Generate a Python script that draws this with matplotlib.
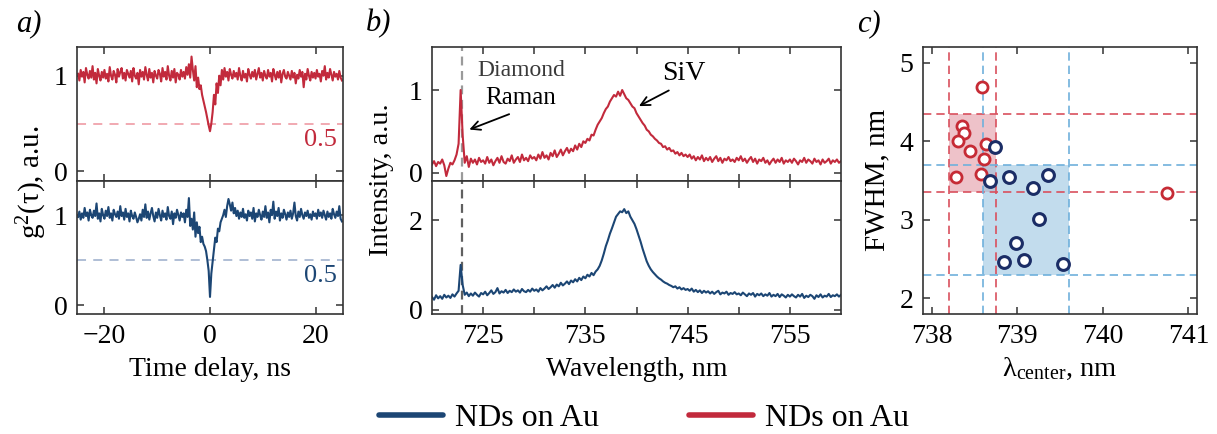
import numpy as np
import matplotlib
matplotlib.use("Agg")
import matplotlib.pyplot as plt
from matplotlib.patches import Rectangle

plt.rcParams['font.family'] = ['Liberation Serif', 'DejaVu Serif']
plt.rcParams['mathtext.fontset'] = 'custom'
plt.rcParams['mathtext.rm'] = 'Liberation Serif'
plt.rcParams['mathtext.it'] = 'Liberation Serif:italic'
plt.rcParams['axes.linewidth'] = 1.2
plt.rcParams['axes.edgecolor'] = '#333333'

red = "#c22a3c"
blue = "#1c4674"

# ---- panel a: g2(tau), tau from -25 to 25 ns, 0.25 ns steps
g2_red = [
    1.02, 0.95, 1.06, 0.99, 1.04, 0.93, 1.08, 1.01, 0.97, 1.05, 0.98, 1.10, 0.96, 1.03, 0.92, 1.07, 1.00, 0.95, 1.04, 0.98,
    1.06, 0.97, 1.02, 0.94, 1.09, 1.00, 0.96, 1.05, 1.01, 0.93, 1.07, 0.99, 1.04, 1.08, 0.97, 1.03, 0.95, 1.06, 1.02, 0.98,
    1.05, 0.94, 1.08, 1.00, 0.97, 1.03, 0.91, 1.06, 0.99, 1.04, 0.96, 1.09, 1.01, 0.95, 1.07, 0.98, 1.03, 0.93, 1.05, 1.00,
    0.97, 1.06, 1.02, 0.94, 1.08, 0.99, 1.04, 0.96, 1.10, 1.00, 0.95, 1.05, 0.98, 1.07, 0.93, 1.03, 1.01, 0.96, 1.06, 0.99,
    1.04, 0.97, 1.09, 1.01, 1.12, 0.98, 1.20, 1.06, 0.95, 1.10, 0.88, 0.98, 0.86, 0.90, 0.80, 0.74, 0.68, 0.62, 0.55, 0.48,
    0.42, 0.50, 0.62, 0.80, 0.70, 0.92, 0.82, 1.00, 0.90, 1.06, 0.96, 1.08, 0.99, 1.04, 0.95, 1.07, 1.01, 0.97, 1.05, 0.99,
    1.03, 0.96, 1.08, 1.00, 0.95, 1.05, 0.98, 1.02, 0.94, 1.07, 1.01, 0.97, 1.04, 0.99, 1.06, 0.96, 1.02, 1.08, 0.98, 1.03,
    0.95, 1.05, 1.00, 0.97, 1.06, 0.99, 1.03, 0.94, 1.07, 1.01, 0.96, 1.04, 0.98, 1.05, 0.93, 1.02, 1.06, 0.99, 0.97, 1.04,
    1.00, 0.96, 1.05, 0.98, 1.03, 0.92, 1.01, 0.97, 1.06, 0.99, 1.04, 0.88, 1.02, 0.96, 1.07, 1.00, 0.95, 1.04, 0.98, 1.03,
    0.97, 1.06, 0.99, 1.02, 0.94, 1.05, 1.00, 1.10, 0.96, 1.03, 0.98, 1.07, 1.01, 0.95, 1.04, 0.99, 1.02, 0.96, 1.05, 0.98, 0.95,
]
g2_blue = [
    0.98, 1.04, 0.95, 1.02, 0.97, 1.08, 0.99, 1.03, 0.94, 1.06, 1.00, 0.97, 1.05, 0.99, 1.13, 0.96, 1.02, 0.93, 1.07, 1.00,
    0.96, 1.05, 0.99, 1.09, 0.97, 1.02, 0.94, 1.06, 1.01, 0.98, 1.04, 0.96, 1.10, 0.99, 1.03, 0.95, 1.07, 0.98, 1.02, 0.93,
    1.05, 0.99, 0.96, 1.03, 0.98, 0.92, 0.96, 1.01, 0.94, 1.06, 0.98, 1.12, 0.97, 1.04, 0.95, 1.02, 1.08, 0.99, 0.93, 1.03,
    0.97, 1.07, 1.00, 0.94, 1.05, 0.98, 1.02, 0.95, 1.09, 0.99, 0.96, 1.04, 0.90, 1.02, 0.97, 1.06, 1.00, 0.94, 1.03, 0.98,
    1.02, 0.92, 1.06, 0.98, 1.19, 0.88, 0.96, 0.84, 1.03, 0.76, 0.92, 0.80, 0.87, 0.70, 0.76, 0.68, 0.65, 0.60, 0.50, 0.38,
    0.09, 0.35, 0.48, 0.62, 0.75, 0.70, 0.85, 0.82, 0.92, 0.96, 1.00, 1.06, 0.98, 1.10, 1.18, 1.12, 1.05, 1.14, 1.02, 1.08,
    0.99, 1.05, 0.96, 1.03, 0.98, 1.07, 0.97, 1.01, 0.94, 1.05, 0.99, 1.03, 0.96, 1.08, 0.93, 1.02, 0.98, 1.06, 1.00, 0.95,
    1.04, 0.98, 1.10, 0.97, 1.03, 0.92, 1.06, 1.00, 1.15, 0.96, 1.04, 0.99, 1.08, 0.94, 1.02, 0.97, 1.06, 1.01, 0.95, 1.03,
    0.98, 1.05, 0.96, 1.02, 1.14, 0.99, 0.94, 1.04, 0.98, 1.07, 1.00, 0.96, 1.03, 0.99, 1.05, 0.97, 1.01, 0.95, 1.04, 0.99,
    1.02, 0.96, 1.06, 0.99, 1.03, 0.97, 1.05, 1.00, 0.95, 1.04, 0.98, 1.02, 0.96, 1.07, 1.01, 0.97, 1.04, 0.99, 1.10, 0.96, 0.93,
]
tau = np.linspace(-25, 25, len(g2_red))

# ---- panel b: spectra, 720 to 760 nm, 0.2 nm steps
spec_red = [
    0.10, 0.14, 0.08, 0.13, 0.11, 0.16, 0.09, -0.04, 0.05, 0.12, 0.10, 0.15, 0.22, 0.35, 1.00, 0.45, 0.12, 0.20, 0.07, 0.17, 0.12, 0.16, 0.10, 0.18, 0.13,
    0.15, 0.11, 0.19, 0.12, 0.16, 0.09, 0.14, 0.18, 0.12, 0.20, 0.13, 0.11, 0.17, 0.14, 0.21, 0.12, 0.16, 0.19, 0.13, 0.22, 0.15, 0.18, 0.14, 0.21, 0.17,
    0.19, 0.15, 0.22, 0.17, 0.25, 0.18, 0.21, 0.16, 0.24, 0.20, 0.27, 0.19, 0.23, 0.28, 0.21, 0.26, 0.30, 0.24, 0.29, 0.26, 0.33, 0.28, 0.35, 0.31, 0.38,
    0.36, 0.41, 0.39, 0.46, 0.45, 0.52, 0.58, 0.62, 0.66, 0.72, 0.77, 0.80, 0.86, 0.90, 0.94, 0.92, 0.98, 0.93, 1.00, 0.95, 0.90, 0.88, 0.84, 0.80, 0.78,
    0.72, 0.68, 0.64, 0.60, 0.57, 0.52, 0.50, 0.46, 0.44, 0.41, 0.39, 0.36, 0.35, 0.31, 0.32, 0.28, 0.30, 0.26, 0.27, 0.23, 0.25, 0.21, 0.24, 0.20, 0.22,
    0.19, 0.22, 0.17, 0.20, 0.15, 0.19, 0.16, 0.21, 0.14, 0.18, 0.15, 0.19, 0.13, 0.17, 0.20, 0.14, 0.18, 0.12, 0.17, 0.15, 0.19, 0.14, 0.16, 0.13, 0.18,
    0.15, 0.20, 0.14, 0.17, 0.12, 0.16, 0.19, 0.13, 0.17, 0.11, 0.16, 0.14, 0.18, 0.12, 0.15, 0.10, 0.14, 0.17, 0.12, 0.16, 0.13, 0.18, 0.11, 0.15, 0.13,
    0.16, 0.12, 0.17, 0.14, 0.10, 0.15, 0.13, 0.18, 0.12, 0.16, 0.14, 0.11, 0.17, 0.13, 0.15, 0.10, 0.16, 0.12, 0.14, 0.17, 0.11, 0.15, 0.13, 0.16, 0.12, 0.14,
]
spec_blue = [
    0.28, 0.22, 0.32, 0.25, 0.30, 0.24, 0.33, 0.27, 0.31, 0.26, 0.34, 0.29, 0.36, 0.42, 1.00, 0.55, 0.33, 0.38, 0.30, 0.36, 0.31, 0.38, 0.33, 0.29, 0.37,
    0.34, 0.40, 0.32, 0.37, 0.43, 0.35, 0.39, 0.48, 0.36, 0.41, 0.38, 0.44, 0.37, 0.42, 0.39, 0.45, 0.40, 0.43, 0.38, 0.46, 0.41, 0.39, 0.44, 0.40, 0.47,
    0.42, 0.45, 0.40, 0.48, 0.43, 0.47, 0.52, 0.46, 0.50, 0.55, 0.49, 0.56, 0.52, 0.60, 0.54, 0.58, 0.63, 0.57, 0.65, 0.61, 0.68, 0.63, 0.71, 0.66, 0.74,
    0.70, 0.78, 0.74, 0.82, 0.77, 0.85, 0.90, 0.98, 1.10, 1.25, 1.42, 1.55, 1.70, 1.82, 1.95, 2.08, 2.14, 2.20, 2.18, 2.25, 2.16, 2.20, 2.08, 2.00, 1.92,
    1.80, 1.66, 1.52, 1.36, 1.22, 1.08, 0.98, 0.90, 0.84, 0.79, 0.74, 0.70, 0.67, 0.63, 0.60, 0.58, 0.55, 0.53, 0.50, 0.52, 0.47, 0.50, 0.45, 0.48, 0.44,
    0.46, 0.42, 0.47, 0.40, 0.44, 0.39, 0.43, 0.37, 0.42, 0.38, 0.41, 0.36, 0.40, 0.35, 0.39, 0.42, 0.34, 0.38, 0.36, 0.40, 0.33, 0.37, 0.35, 0.39, 0.34,
    0.36, 0.32, 0.38, 0.34, 0.30, 0.36, 0.33, 0.37, 0.29, 0.35, 0.32, 0.36, 0.30, 0.34, 0.31, 0.37, 0.29, 0.33, 0.30, 0.35, 0.28, 0.34, 0.31, 0.27, 0.33,
    0.29, 0.34, 0.30, 0.27, 0.33, 0.29, 0.35, 0.26, 0.31, 0.28, 0.33, 0.30, 0.24, 0.32, 0.28, 0.34, 0.27, 0.31, 0.29, 0.35, 0.28, 0.32, 0.30, 0.34, 0.29, 0.33,
]
wl = np.linspace(720, 760, len(spec_red))
raman_wl = 722.9

# ---- panel c: FWHM vs center wavelength
lam_red = [738.59, 738.35, 738.38, 738.31, 738.45, 738.64, 738.61, 738.58, 738.28, 740.75]
fwhm_red = [4.69, 4.20, 4.10, 4.00, 3.88, 3.97, 3.77, 3.58, 3.54, 3.34]
lam_blue = [738.74, 738.68, 738.90, 739.18, 739.36, 739.26, 738.99, 738.85, 739.08, 739.53]
fwhm_blue = [3.93, 3.49, 3.54, 3.41, 3.57, 3.01, 2.70, 2.46, 2.49, 2.44]
box_red = (738.2, 738.75, 3.35, 4.35)
box_blue = (738.6, 739.6, 2.3, 3.7)

fig = plt.figure(figsize=(12.17, 4.34), dpi=100)
W, H = 1217, 434


def px_axes(l, t, r, b):
    return fig.add_axes([l / W, 1 - b / H, (r - l) / W, (b - t) / H])


def style(ax, labelbottom=False):
    ax.tick_params(direction='in', top=True, right=True, length=5, width=1.1,
                   labelsize=20, pad=7, labelbottom=labelbottom, color='#333333')


# panel a
a1 = px_axes(77, 47, 343, 181)
a2 = px_axes(77, 181, 343, 314)
a1.plot(tau, g2_red, color=red, lw=1.5)
a2.plot(tau, g2_blue, color=blue, lw=1.5)
a1.axhline(0.5, color='#f0a3ab', lw=1.3, ls=(0, (5, 4)), zorder=0)
a2.axhline(0.5, color='#a9b9d2', lw=1.3, ls=(0, (5, 4)), zorder=0)
a1.text(24, 0.33, "0.5", color=red, fontsize=19, ha='right', va='center')
a2.text(24, 0.32, "0.5", color=blue, fontsize=19, ha='right', va='center')
a1.set_ylim(-0.1, 1.3)
a2.set_ylim(-0.1, 1.38)
for ax in (a1, a2):
    ax.set_xlim(-25.2, 25.2)
    ax.set_xticks([-20, 0, 20])
    ax.set_yticks([0, 1])
    style(ax, labelbottom=(ax is a2))
a2.set_xticklabels(['\u221220', '0', '20'])

# panel b
b1 = px_axes(432, 47, 841, 181)
b2 = px_axes(432, 181, 841, 314)
b1.plot(wl, spec_red, color=red, lw=1.5)
b2.plot(wl, spec_blue, color=blue, lw=1.5)
b1.axvline(raman_wl, color='#9a9a9a', lw=1.6, ls=(0, (4, 2.5)), zorder=0)
b2.axvline(raman_wl, color='#606060', lw=1.6, ls=(0, (4, 2.5)), zorder=0)
b1.set_ylim(-0.1, 1.52)
b2.set_ylim(-0.1, 2.88)
b1.set_yticks([0, 1])
b2.set_yticks([0, 2])
for ax in (b1, b2):
    ax.set_xlim(720, 760)
    ax.set_xticks([725, 730, 735, 740, 745, 750, 755])
    style(ax, labelbottom=(ax is b2))
b2.set_xticklabels(['725', '', '735', '', '745', '', '755'])
b1.text(728.7, 1.23, "Diamond", fontsize=17, color='#3a3a3a', ha='center', va='center')
b1.text(728.7, 0.90, "Raman", fontsize=18, ha='center', va='center')
b1.annotate("", xy=(723.4, 0.51), xytext=(727.8, 0.72),
            arrowprops=dict(arrowstyle='->', color='black', lw=1.3, mutation_scale=16))
b1.text(744.6, 1.2, "SiV", fontsize=20, ha='center', va='center')
b1.annotate("", xy=(740.0, 0.79), xytext=(743.4, 1.01),
            arrowprops=dict(arrowstyle='->', color='black', lw=1.3, mutation_scale=16))

# panel c
c = px_axes(923, 47, 1197, 314)
c.add_patch(Rectangle((box_red[0], box_red[2]), box_red[1] - box_red[0], box_red[3] - box_red[2],
                      facecolor='#e8a9b2', alpha=0.7, lw=0, zorder=0))
c.add_patch(Rectangle((box_blue[0], box_blue[2]), box_blue[1] - box_blue[0], box_blue[3] - box_blue[2],
                      facecolor='#9ac6e2', alpha=0.6, lw=0, zorder=0))
for v in box_red[:2]:
    c.axvline(v, color='#d9505e', lw=1.2, ls=(0, (5, 3)), zorder=1)
for v in box_red[2:]:
    c.axhline(v, color='#d9505e', lw=1.2, ls=(0, (5, 3)), zorder=1)
for v in box_blue[:2]:
    c.axvline(v, color='#6fb0dc', lw=1.2, ls=(0, (5, 3)), zorder=1)
for v in box_blue[2:]:
    c.axhline(v, color='#6fb0dc', lw=1.2, ls=(0, (5, 3)), zorder=1)
c.plot(lam_red, fwhm_red, 'o', mfc='white', mec='#c62b35', mew=2, ms=8, zorder=3)
c.plot(lam_blue, fwhm_blue, 'o', mfc='white', mec='#1b2d66', mew=2.2, ms=8.5, zorder=3)
c.set_xlim(737.9, 741.1)
c.set_ylim(1.8, 5.2)
c.set_xticks([738, 739, 740, 741])
c.set_yticks([2, 3, 4, 5])
style(c, labelbottom=True)

# labels
fig.text(32 / W, 1 - 182 / H, "g$^2$(\u03c4), a.u.", rotation=90, fontsize=21, ha='center', va='center')
fig.text(381 / W, 1 - 180 / H, "Intensity, a.u.", rotation=90, fontsize=20.5, ha='center', va='center')
fig.text(877 / W, 1 - 180 / H, "FWHM, nm", rotation=90, fontsize=21, ha='center', va='center')
fig.text(210 / W, 1 - 376 / H, "Time delay, ns", fontsize=20, ha='center', va='baseline')
fig.text(637 / W, 1 - 376 / H, "Wavelength, nm", fontsize=20, ha='center', va='baseline')
fig.text(1060 / W, 1 - 376 / H, "\u03bb$_{\\mathrm{center}}$, nm", fontsize=20.5, ha='center', va='baseline')
fig.text(16 / W, 1 - 31 / H, "a)", fontsize=22, style='italic', va='baseline')
fig.text(366 / W, 1 - 31 / H, "b)", fontsize=22, style='italic', va='baseline')
fig.text(857 / W, 1 - 31 / H, "c)", fontsize=22, style='italic', va='baseline')

h1, = a2.plot([], [], color=blue, lw=4, solid_capstyle='round')
h2, = a1.plot([], [], color=red, lw=4, solid_capstyle='round')
fig.legend([h1, h2], ["NDs on Au", "NDs on Au"], loc='center', bbox_to_anchor=(644 / W, 1 - 418 / H),
           ncol=2, frameon=False, fontsize=23, handlelength=2.0, handletextpad=0.4, columnspacing=2.8,
           borderpad=0.1)

fig.savefig("out.png", dpi=100)
